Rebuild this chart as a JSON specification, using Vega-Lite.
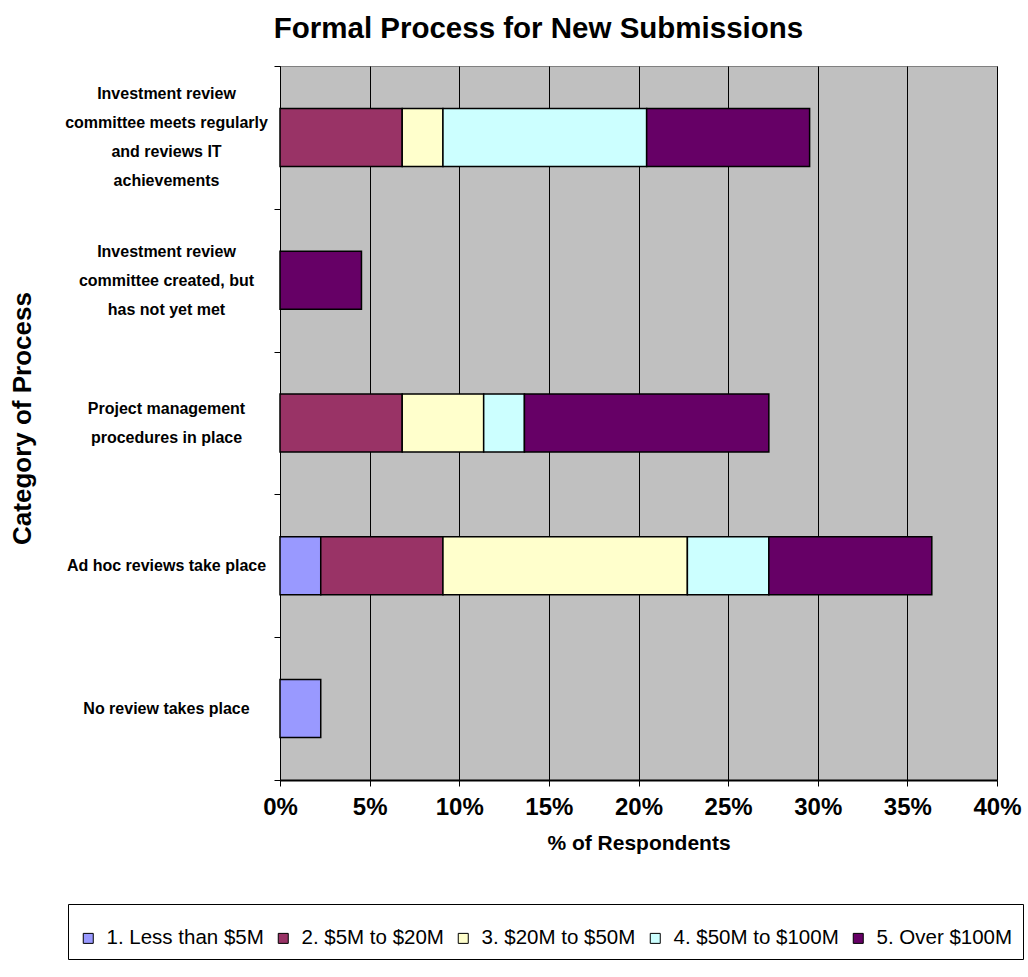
{
  "$schema": "https://vega.github.io/schema/vega-lite/v6.json",
  "width": 717,
  "height": 714,
  "autosize": {"type": "none"},
  "padding": {"left": 280, "top": 66, "right": 31, "bottom": 197},
  "background": "white",
  "title": {
    "text": "Formal Process for New Submissions",
    "font": "Liberation Sans",
    "fontSize": 29.5,
    "fontWeight": "bold",
    "color": "black",
    "anchor": "middle",
    "dx": -100,
    "offset": 14
  },
  "data": {
    "values": [
      {"process": "Investment review|committee meets regularly|and reviews IT|achievements", "size": "2. $5M to $20M", "share": 0.06818},
      {"process": "Investment review|committee meets regularly|and reviews IT|achievements", "size": "3. $20M to $50M", "share": 0.02273},
      {"process": "Investment review|committee meets regularly|and reviews IT|achievements", "size": "4. $50M to $100M", "share": 0.11364},
      {"process": "Investment review|committee meets regularly|and reviews IT|achievements", "size": "5. Over $100M", "share": 0.09091},
      {"process": "Investment review|committee created, but|has not yet met", "size": "5. Over $100M", "share": 0.04545},
      {"process": "Project management|procedures in place", "size": "2. $5M to $20M", "share": 0.06818},
      {"process": "Project management|procedures in place", "size": "3. $20M to $50M", "share": 0.04545},
      {"process": "Project management|procedures in place", "size": "4. $50M to $100M", "share": 0.02273},
      {"process": "Project management|procedures in place", "size": "5. Over $100M", "share": 0.13636},
      {"process": "Ad hoc reviews take place", "size": "1. Less than $5M", "share": 0.02273},
      {"process": "Ad hoc reviews take place", "size": "2. $5M to $20M", "share": 0.06818},
      {"process": "Ad hoc reviews take place", "size": "3. $20M to $50M", "share": 0.13636},
      {"process": "Ad hoc reviews take place", "size": "4. $50M to $100M", "share": 0.04545},
      {"process": "Ad hoc reviews take place", "size": "5. Over $100M", "share": 0.09091},
      {"process": "No review takes place", "size": "1. Less than $5M", "share": 0.02273}
    ]
  },
  "mark": {"type": "bar", "stroke": "black", "strokeWidth": 1.5, "height": {"band": 0.406}},
  "encoding": {
    "y": {
      "field": "process",
      "type": "nominal",
      "sort": [
        "Investment review|committee meets regularly|and reviews IT|achievements",
        "Investment review|committee created, but|has not yet met",
        "Project management|procedures in place",
        "Ad hoc reviews take place",
        "No review takes place"
      ],
      "scale": {"paddingInner": 0, "paddingOuter": 0},
      "axis": {
        "title": "Category of Process",
        "titleFont": "Liberation Sans",
        "titleFontSize": 26,
        "titleFontWeight": "bold",
        "titleColor": "black",
        "titleAngle": 270,
        "titleX": -258,
        "titleY": 352,
        "titleAlign": "center",
        "titleBaseline": "middle",
        "labelExpr": "split(datum.label, '|')",
        "labelFont": "Liberation Sans",
        "labelFontSize": 16,
        "labelFontWeight": "bold",
        "labelColor": "black",
        "labelAlign": "center",
        "labelBaseline": "middle",
        "labelLineHeight": 29,
        "labelPadding": 108,
        "labelLimit": 300,
        "labelOffset": {
          "condition": [
            {"test": "length(split(datum.value, '|')) == 4", "value": -43.5},
            {"test": "length(split(datum.value, '|')) == 3", "value": -29},
            {"test": "length(split(datum.value, '|')) == 2", "value": -14.5}
          ],
          "value": 0
        },
        "tickBand": "extent",
        "tickSize": 6,
        "tickColor": "black",
        "domainColor": "black",
        "domainWidth": 1,
        "grid": false
      }
    },
    "x": {
      "field": "share",
      "type": "quantitative",
      "stack": "zero",
      "scale": {"domain": [0, 0.4], "nice": false},
      "axis": {
        "title": "% of Respondents",
        "values": [0, 0.05, 0.1, 0.15, 0.2, 0.25, 0.3, 0.35, 0.4],
        "format": ".0%",
        "labelFont": "Liberation Sans",
        "labelFontSize": 24,
        "labelFontWeight": "bold",
        "labelColor": "black",
        "labelPadding": 9,
        "labelFlush": false,
        "labelOverlap": false,
        "tickSize": 6,
        "tickColor": "black",
        "domainColor": "black",
        "domainWidth": 2,
        "grid": true,
        "gridColor": "black",
        "gridWidth": 1,
        "gridOpacity": 1,
        "titleFont": "Liberation Sans",
        "titleFontSize": 21,
        "titleFontWeight": "bold",
        "titleColor": "black",
        "titlePadding": 13
      }
    },
    "color": {
      "field": "size",
      "type": "nominal",
      "scale": {
        "domain": ["1. Less than $5M", "2. $5M to $20M", "3. $20M to $50M", "4. $50M to $100M", "5. Over $100M"],
        "range": ["#9999FF", "#993366", "#FFFFCC", "#CCFFFF", "#660066"]
      },
      "legend": {
        "orient": "none",
        "legendX": -212,
        "legendY": 838,
        "direction": "horizontal",
        "title": " ",
        "titleFontSize": 14,
        "titlePadding": 0,
        "strokeColor": "black",
        "fillColor": "white",
        "padding": 10,
        "labelFont": "Liberation Sans",
        "labelFontSize": 20.5,
        "labelColor": "black",
        "labelOffset": 8,
        "labelLimit": 300,
        "columnPadding": 9,
        "symbolType": "square",
        "symbolSize": 100,
        "symbolStrokeColor": "black",
        "symbolStrokeWidth": 1,
        "symbolOpacity": 1
      }
    },
    "order": {"field": "size", "type": "nominal", "sort": "ascending"}
  },
  "config": {
    "view": {"fill": "#C0C0C0", "stroke": "#808080", "strokeWidth": 1}
  }
}
